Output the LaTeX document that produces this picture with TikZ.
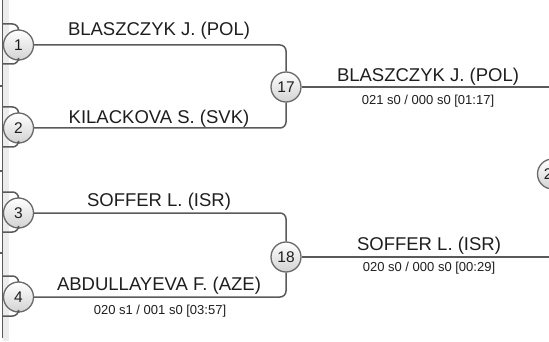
\documentclass[tikz,border=0pt]{standalone}
\usepackage{fontspec}
\setmainfont{Liberation Sans}
\usepackage{xcolor}
\usetikzlibrary{positioning,calc}
\definecolor{WireC}{HTML}{5A5A5A}
\definecolor{RingC}{HTML}{6A6A6A}
\definecolor{TextC}{HTML}{1E1E1E}

\begin{document}
\begin{tikzpicture}[x=1pt,y=-1pt,
    wire/.style={draw=WireC, line width=1.5pt, rounded corners=6pt},
    match/.style={circle, draw=RingC, line width=1.3pt,
                  top color=white, bottom color=gray!35,
                  minimum size=30pt, inner sep=0pt,
                  text=TextC, font=\fontsize{15.5}{16}\selectfont},
    player/.style={anchor=base, text=TextC, inner sep=0pt,
                   font=\fontsize{18.5}{20}\selectfont},
    score/.style={anchor=base, text=TextC, inner sep=0pt,
                  font=\fontsize{13}{14}\selectfont}]
  \useasboundingbox (0,0) rectangle (549,342);
  \clip (0,0) rectangle (549,342);

  % left panel edge
  \fill[gray!15] (3,0) rectangle (8.5,341);
  \draw[WireC, line width=1.5pt] (2.5,0) -- (2.5,338);
  \foreach \y in {86,171,253}
    \draw[WireC, line width=1.5pt] (0,\y) -- (2.5,\y);

  % first round
  \node[match] (m1) at (18.5,45) {1};
  \node[match] (m2) at (18.5,128) {2};
  \node[match] (m3) at (18.5,213) {3};
  \node[match] (m4) at (18.5,297) {4};

  \foreach \m/\y in {1/45,2/128,3/213,4/297} {
    \coordinate (in\m a) at (2.5,\y-21);
    \coordinate (in\m b) at (2.5,\y+19);
    \draw[wire] (in\m a) -| (m\m.north);
    \draw[wire] (in\m b) -| (m\m.south);
  }

  % second round
  \node[match] (m17) at (286,87) {17};
  \node[match] (m18) at (286,257) {18};
  \node[match] (m25) at (552.5,174) {25};

  \draw[wire] (m1.east) -| (m17.north);
  \draw[wire] (m2.east) -| (m17.south);
  \draw[wire] (m3.east) -| (m18.north);
  \draw[wire] (m4.east) -| (m18.south);

  \coordinate (out17) at (549,87);
  \coordinate (out18) at (549,257);
  \draw[wire] (m17.east) -- (out17);
  \draw[wire] (m18.east) -- (out18);

  % names and scores
  \node[player] (p1) at (159,36) {BLASZCZYK J. (POL)};
  \node[player] (p2) at (159,124) {KILACKOVA S. (SVK)};
  \node[player] (p3) at (159,206) {SOFFER L. (ISR)};
  \node[player] (p4) at (159,290) {ABDULLAYEVA F. (AZE)};
  \node[score] (s4) at (160,314) {020 s1 / 001 s0 [03:57]};

  \node[player] (w17) at (428,82) {BLASZCZYK J. (POL)};
  \node[score] (s17) at (428,105) {021 s0 / 000 s0 [01:17]};
  \node[player] (w18) at (429,250) {SOFFER L. (ISR)};
  \node[score] (s18) at (429,271) {020 s0 / 000 s0 [00:29]};
\end{tikzpicture}
\end{document}
